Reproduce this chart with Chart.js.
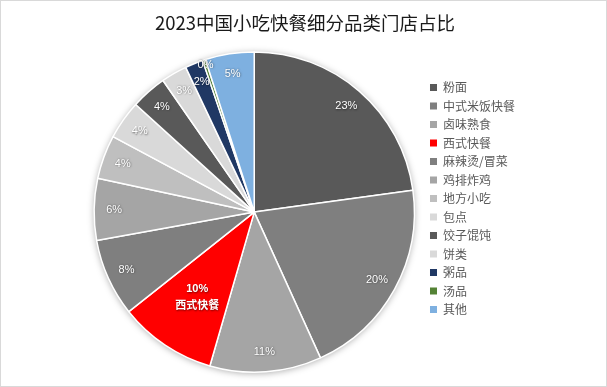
<!DOCTYPE html>
<html><head><meta charset="utf-8">
<script src="https://cdn.jsdelivr.net/npm/chart.js@4/dist/chart.umd.min.js"></script>
<style>html,body{margin:0;padding:0;background:#fff;}#wrap{width:607px;height:387px;position:relative;}</style>
</head><body><div id="wrap"><canvas id="c" width="607" height="387"></canvas></div>
<script>
const titleText = '2023中国小吃快餐细分品类门店占比';
const categories = ['粉面','中式米饭快餐','卤味熟食','西式快餐','麻辣烫/冒菜','鸡排炸鸡','地方小吃','包点','饺子馄饨','饼类','粥品','汤品','其他'];
const shares = [22.7, 20.3, 11.2, 9.8, 7.8, 6.2, 4.4, 3.9, 3.6, 2.6, 1.8, 0.3, 4.9];
const sliceColors = ['#595959','#7f7f7f','#a5a5a5','#ff0000','#7f7f7f','#a5a5a5','#bfbfbf','#d9d9d9','#595959','#d9d9d9','#203864','#548235','#7eb0e0'];
const highlightCategory = '西式快餐';

const CJK = '"Noto Sans CJK SC", "Noto Sans", sans-serif';

const frame = {
  id: 'frame',
  beforeDraw(chart) {
    const ctx = chart.ctx;
    ctx.save();
    ctx.fillStyle = '#fff';
    ctx.fillRect(0, 0, chart.width, chart.height);
    ctx.strokeStyle = '#d9d9d9';
    ctx.lineWidth = 1;
    ctx.strokeRect(0.5, 0.5, chart.width - 1, chart.height - 1);
    ctx.restore();
  }
};

const pieShadow = {
  id: 'pieShadow',
  beforeDatasetsDraw(chart) {
    const arcs = chart.getDatasetMeta(0).data;
    if (!arcs.length) return;
    const a = arcs[0];
    const ctx = chart.ctx;
    ctx.save();
    ctx.shadowColor = 'rgba(0,0,0,0.35)';
    ctx.shadowBlur = 7;
    ctx.shadowOffsetY = 1;
    ctx.fillStyle = '#fff';
    ctx.beginPath();
    ctx.arc(a.x, a.y, a.outerRadius, 0, Math.PI * 2);
    ctx.fill();
    ctx.restore();
  }
};

const sliceLabels = {
  id: 'sliceLabels',
  afterDatasetsDraw(chart) {
    const ctx = chart.ctx;
    const ds = chart.data.datasets[0];
    const total = ds.data.reduce((s, v) => s + v, 0);
    chart.getDatasetMeta(0).data.forEach((arc, i) => {
      const p = arc.getProps(['x','y','startAngle','endAngle','outerRadius'], true);
      const mid = (p.startAngle + p.endAngle) / 2;
      const label = chart.data.labels[i];
      const isHi = label === highlightCategory;
      const v = ds.data[i];
      let f = isHi ? 0.64 : (v / total < 0.01 ? 0.97 : 0.875);
      const r = p.outerRadius * f;
      const px = p.x + Math.cos(mid) * r;
      const py = p.y + Math.sin(mid) * r;
      const pct = Math.round(v / total * 100) + '%';
      ctx.save();
      ctx.textAlign = 'center';
      ctx.textBaseline = 'middle';
      ctx.fillStyle = '#ffffff';
      ctx.shadowColor = 'rgba(0,0,0,0.55)';
      ctx.shadowBlur = 2;
      ctx.shadowOffsetX = 0.5;
      ctx.shadowOffsetY = 0.5;
      if (isHi) {
        ctx.font = 'bold 11px "Liberation Sans", ' + CJK;
        ctx.fillText(pct, px, py - 8);
        ctx.font = 'bold 11px ' + CJK;
        ctx.fillText(label, px, py + 8);
      } else {
        ctx.font = '11px "Liberation Sans", sans-serif';
        ctx.fillText(pct, px, py);
      }
      ctx.restore();
    });
  }
};

new Chart(document.getElementById('c'), {
  type: 'pie',
  data: {
    labels: categories,
    datasets: [{
      data: shares,
      backgroundColor: sliceColors,
      borderColor: '#ffffff',
      borderWidth: 1.5
    }]
  },
  options: {
    responsive: false,
    animation: false,
    layout: { padding: { left: 85, right: 82, top: 0, bottom: 14 } },
    plugins: {
      tooltip: { enabled: false },
      title: {
        display: true,
        text: titleText,
        color: '#1a1a1a',
        font: { family: CJK, size: 18.5, weight: 'normal' },
        padding: { top: 12, bottom: 17 }
      },
      legend: {
        position: 'right',
        align: 'start',
        title: { display: true, text: ' ', font: { size: 10 }, padding: { top: 63, bottom: 0 } },
        labels: {
          boxWidth: 7,
          boxHeight: 7,
          padding: 6.5,
          color: '#595959',
          font: { family: CJK, size: 12 },
          generateLabels(chart) {
            const items = Chart.overrides.pie.plugins.legend.labels.generateLabels(chart);
            items.forEach(it => { it.lineWidth = 0; it.strokeStyle = it.fillStyle; });
            return items;
          }
        }
      }
    }
  },
  plugins: [frame, pieShadow, sliceLabels]
});
</script>
</body></html>
